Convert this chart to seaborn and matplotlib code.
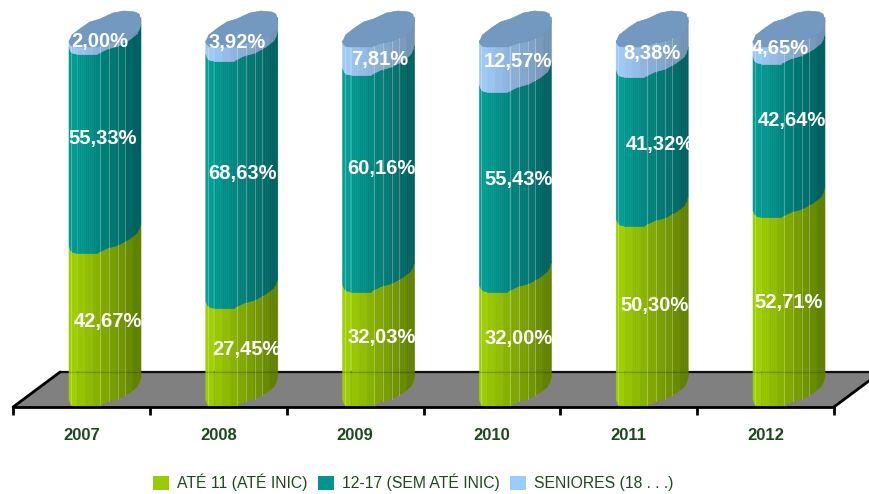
import matplotlib
matplotlib.use("Agg")
import matplotlib.pyplot as plt
import numpy as np
import seaborn as sns
from matplotlib.collections import PolyCollection
from matplotlib.colors import to_rgb
from matplotlib.patches import Patch, Polygon

years = ["2007", "2008", "2009", "2010", "2011", "2012"]
ate_11 = [42.67, 27.45, 32.03, 32.00, 50.30, 52.71]
de_12_17 = [55.33, 68.63, 60.16, 55.43, 41.32, 42.64]
seniores = [2.00, 3.92, 7.81, 12.57, 8.38, 4.65]
series_names = ["ATÉ 11 (ATÉ INIC)", "12-17 (SEM ATÉ INIC)", "SENIORES (18 . . .)"]

sns.set_theme(style="white")
plt.rcParams["font.family"] = ["Liberation Sans", "DejaVu Sans"]

# escala do grafico em pixels
PX_X = 136.8
PX_Y = 3.6
DARK_GREEN = "#1c4a1c"

# cor esquerda, cor direita, cor da legenda
colors = [
    ("#a2d400", "#5f7f00", "#99cc00"),
    ("#00a096", "#005f5e", "#009490"),
    ("#a0ccfb", "#6f90b2", "#99ccff"),
]

# forma da barra: deslocamento em px e quanto a borda sobe
shape_x = [0, 1, 3, 8, 28, 38, 49, 60, 69, 71, 72]
shape_rise = [7, 4, 1, 0, 0, 5, 8, 14, 21, 27, 30]
cap_x = [0, 3, 12, 21, 31, 44, 55, 66, 70, 72]
cap_rise = [5, 12, 19, 25, 28, 34, 36, 35, 33, 26]
line_x = [2, 31, 40, 49, 56]
N_STRIPS = 36

# ajuste fino dos rotulos em px (x, y), uma linha por serie
nudge = [
    [(3, 9), (5, 8), (3, 12), (3, 11), (2, 11), (0, 10)],
    [(-2, 15), (1, 11), (3, 15), (3, 13), (8, 7), (3, 20)],
    [(-5, 9), (-5, 12), (1, 2), (3, 8), (0, 9), (-9, 7)],
]


def rise_at(px):
    return np.interp(px, shape_x, shape_rise) / PX_Y


def draw_segment(ax, x_left, width, low, high, left, right):
    edges = np.linspace(0, width * PX_X, N_STRIPS + 1)
    verts = []
    faces = []
    c0 = np.array(to_rgb(left))
    c1 = np.array(to_rgb(right))
    for k in range(N_STRIPS):
        a, b = edges[k], edges[k + 1]
        xa, xb = x_left + a / PX_X, x_left + b / PX_X
        ra, rb = rise_at(a), rise_at(b)
        verts.append([(xa, low + ra), (xb, low + rb), (xb, high + rb), (xa, high + ra)])
        t = (np.floor(k / 4) * 4 + 2) / (N_STRIPS - 1)
        faces.append(c0 + (c1 - c0) * min(t, 1))
    ax.add_collection(PolyCollection(verts, facecolors=faces, edgecolors=faces, linewidths=0.4, zorder=3))
    for lx in line_x:
        xl = x_left + lx / PX_X
        r = rise_at(lx)
        ax.plot([xl, xl], [low + r, high + r], color="white", alpha=0.28, lw=0.8, zorder=4)


def draw_cap(ax, x_left, top):
    front_x = np.array(shape_x[:-1], dtype=float)
    front_r = np.array(shape_rise[:-1], dtype=float) * 0.75
    front = np.column_stack([x_left + front_x / PX_X, top + front_r / PX_Y])
    back = np.column_stack([x_left + np.array(cap_x) / PX_X, top + np.array(cap_rise) / PX_Y])
    ax.add_patch(Polygon(np.vstack([front, back[::-1]]), closed=True, facecolor="#7499c1",
                         edgecolor="#6f93ba", lw=0.5, zorder=5))


def plot_chart(output_path):
    fig = plt.figure(figsize=(8.7, 4.94), dpi=100)
    ax = fig.add_axes([0, 0, 1, 1])

    totals = np.cumsum([ate_11, de_12_17, seniores], axis=0)
    for i, total in enumerate(totals):
        sns.barplot(x=years, y=total, color=colors[i][2], width=72 / PX_X, ax=ax, errorbar=None)

    ax.set_xlim(-81.5 / PX_X, (870 - 81.5) / PX_X)
    ax.set_ylim(-(494 - 407) / PX_Y, 407 / PX_Y)

    # chao cinza
    dx, dy = 47 / PX_X, 35 / PX_Y
    ax.add_patch(Polygon([(-0.5, 0), (5.5, 0), (5.5 + dx, dy), (-0.5 + dx, dy)], closed=True,
                         facecolor="#808080", edgecolor="none", zorder=1))
    ax.plot([-0.5 + dx, 5.5 + dx], [dy, dy], color="#111111", lw=1.6, zorder=2)
    ax.plot([-0.5, -0.5 + dx], [0, dy], color="black", lw=2, zorder=2)
    ax.plot([5.5, 5.5 + dx], [0, dy], color="black", lw=2, zorder=2)

    for i, container in enumerate(ax.containers):
        previous = totals[i - 1] if i > 0 else np.zeros(len(years))
        values = [ate_11, de_12_17, seniores][i]
        for j, bar in enumerate(container):
            bar.set_visible(False)
            x_left = j - 12.5 / PX_X
            draw_segment(ax, x_left, bar.get_width(), previous[j], bar.get_height(), colors[i][0], colors[i][1])
            if i == 2:
                draw_cap(ax, x_left, bar.get_height())
            center = x_left + bar.get_width() / 2
            ax.annotate(f"{values[j]:.2f}%".replace(".", ","),
                        xy=(center, (previous[j] + bar.get_height()) / 2),
                        xytext=nudge[i][j], textcoords="offset pixels",
                        ha="center", va="center", color="white", fontsize=14.5, fontweight="bold", zorder=7)

    # linha do fundo vista atraves das barras
    ax.plot([-0.5 + dx, 5.5 + dx], [dy, dy], color="black", alpha=0.18, lw=1, zorder=6)

    for name in ["top", "left", "right"]:
        ax.spines[name].set_visible(False)
    ax.spines["bottom"].set_position(("data", 0))
    ax.spines["bottom"].set_bounds(-0.5, 5.5)
    ax.spines["bottom"].set_linewidth(2)
    ax.spines["bottom"].set_color("black")
    ax.spines["bottom"].set_zorder(6)
    ax.set_yticks([])
    ax.set_xticks(np.arange(-0.5, 6), minor=True)
    ax.tick_params(axis="x", which="minor", bottom=True, length=6, width=2, color="black", direction="out")
    ax.tick_params(axis="x", which="major", bottom=False, pad=9, labelsize=12, labelcolor=DARK_GREEN)
    for label in ax.get_xticklabels():
        label.set_fontweight("bold")
    ax.set_ylabel("")

    handles = [Patch(facecolor=c[2], edgecolor="none") for c in colors]
    fig.legend(handles, series_names, loc="lower center", bbox_to_anchor=(0.475, -0.014), ncol=3, frameon=False,
               fontsize=11.3, labelcolor=DARK_GREEN, handlelength=1.0, handleheight=1.0,
               handletextpad=0.5, columnspacing=0.7, borderpad=0.1)

    fig.savefig(output_path, dpi=100)
    plt.close(fig)


if __name__ == "__main__":
    plot_chart("out.png")
